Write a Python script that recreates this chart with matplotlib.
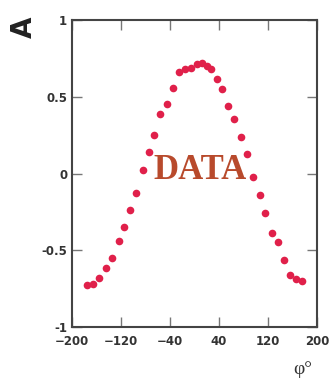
import numpy as np
import matplotlib.pyplot as plt

# asymmetry vs angle
phi = [-176, -166, -156, -145, -134, -124, -115, -105, -96, -85, -75, -66,
       -56, -45, -36, -25, -16, -6, 4, 12, 20, 26, 36, 45, 55, 65, 75, 85,
       96, 106, 115, 126, 136, 146, 156, 166, 175]
asym = [-0.726, -0.722, -0.683, -0.614, -0.549, -0.44, -0.35, -0.238, -0.129,
        0.023, 0.14, 0.251, 0.39, 0.453, 0.559, 0.663, 0.681, 0.689, 0.713,
        0.722, 0.702, 0.681, 0.616, 0.549, 0.44, 0.353, 0.24, 0.125, -0.025,
        -0.142, -0.259, -0.39, -0.448, -0.562, -0.661, -0.689, -0.698]

xticks = [-200, -120, -40, 40, 120, 200]
yticks = [-1, -0.5, 0, 0.5, 1]
yticklabels = ["-1", "-0.5", "0", "0.5", "1"]

fig = plt.figure(figsize=(3.29, 3.87), dpi=100)
ax = fig.add_axes([0.219, 0.155, 0.745, 0.793])

ax.plot(phi, asym, "o", color="#e0204a", markersize=5.5, markeredgewidth=0)

ax.set_xlim(-200, 200)
ax.set_ylim(-1, 1)
ax.set_xticks(xticks)
ax.set_yticks(yticks)
ax.set_yticklabels(yticklabels)

for s in ax.spines.values():
    s.set_color("#444444")
    s.set_linewidth(1.5)

ax.tick_params(direction="in", length=7, width=1, color="#777777",
               top=True, right=True, labelsize=8.5, labelcolor="#333333")
ax.tick_params(axis="x", pad=6)
for lab in ax.get_xticklabels() + ax.get_yticklabels():
    lab.set_fontweight("bold")

ax.text(9, 0.023, "DATA", family="Liberation Serif", fontweight="bold",
        fontsize=25, color="#b84a2c", ha="center", va="center")

fig.text(0.073, 0.93, "A", fontsize=20, fontweight="bold", rotation=90,
         ha="center", va="center", color="#222222")
fig.text(0.92, 0.045, "φ°", family="Liberation Serif", fontsize=14,
         ha="center", va="center", color="#333333")

fig.savefig("out.png", dpi=100, facecolor="white")
